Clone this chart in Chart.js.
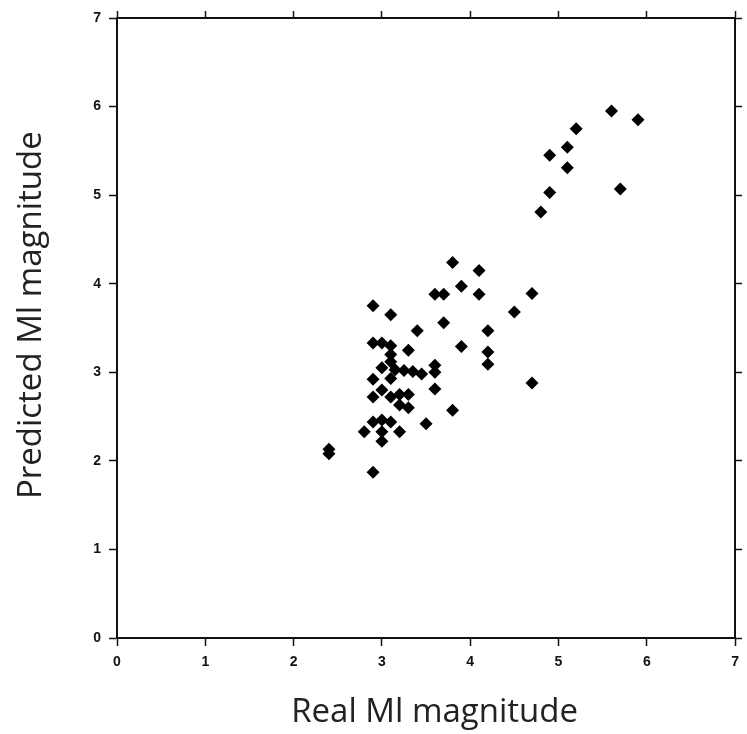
<!DOCTYPE html>
<html>
<head>
<meta charset="utf-8">
<script src="https://cdn.jsdelivr.net/npm/chart.js@4"></script>
<style>
  body { margin: 0; background: #fff; }
</style>
</head>
<body>
<canvas id="magChart" width="747" height="734"></canvas>
<script>
// Real vs predicted Ml magnitude
const realMl = [
  2.4, 2.4, 2.9, 2.9, 3.1, 3.4, 3.6, 3.7, 3.8, 3.9, 4.1, 4.1, 4.7, 4.5,
  3.7, 4.2, 3.3, 3.9, 4.2, 4.2, 3.6, 3.6, 4.7, 3.8, 3.5,
  2.9, 3.0, 3.1, 3.1, 3.1, 3.0, 3.15, 3.25, 3.35, 3.45, 3.6,
  2.9, 3.1, 3.0, 2.9, 3.1, 3.2, 3.2, 3.3, 3.3,
  2.9, 3.0, 3.1, 2.8, 3.0, 3.0, 3.2,
  5.6, 5.9, 5.2, 5.1, 4.9, 5.1, 4.9, 4.8, 5.7
];
const predictedMl = [
  2.13, 2.08, 1.87, 3.75, 3.65, 3.47, 3.88, 3.88, 4.24, 3.97, 4.15, 3.88, 3.89, 3.68,
  3.56, 3.47, 3.25, 3.29, 3.23, 3.09, 3.08, 2.81, 2.88, 2.57, 2.42,
  3.33, 3.33, 3.30, 3.20, 3.12, 3.05, 3.03, 3.02, 3.01, 2.98, 3.0,
  2.92, 2.93, 2.80, 2.72, 2.72, 2.75, 2.63, 2.75, 2.60,
  2.44, 2.46, 2.44, 2.33, 2.33, 2.22, 2.33,
  5.95, 5.85, 5.75, 5.54, 5.45, 5.31, 5.03, 4.81, 5.07
];
const axisTicks = [0, 1, 2, 3, 4, 5, 6, 7];

const points = realMl.map((x, i) => ({ x: x, y: predictedMl[i] }));

// shared look for the four axes; "size" pins the axis band so the plot box lands where the figure has it
function axisOpts(position, title, showLabels, tickLen, size) {
  const horizontal = position === "top" || position === "bottom";
  return {
    type: "linear",
    position: position,
    min: 0,
    max: 7,
    afterBuildTicks: (scale) => { scale.ticks = axisTicks.map(v => ({ value: v })); },
    afterFit: (scale) => {
      if (horizontal) scale.height = size;
      else scale.width = size;
    },
    ticks: {
      display: showLabels,
      color: "#111",
      padding: 8,
      font: { family: "'Liberation Sans', Arial, sans-serif", size: 14, weight: "bold" },
    },
    grid: {
      drawOnChartArea: false,
      drawTicks: true,
      tickLength: tickLen,
      tickColor: "#111",
      tickWidth: 1.5,
    },
    border: { display: true, color: "#111", width: 2 },
    title: {
      display: !!title,
      text: title,
      color: "#222",
      font: { family: "'Open Sans', sans-serif", size: 33 },
      padding: horizontal ? { top: 0, bottom: 2 } : { top: 12, bottom: 0 },
    },
  };
}

const ctx = document.getElementById("magChart").getContext("2d");

new Chart(ctx, {
  type: "scatter",
  data: {
    datasets: [
      {
        label: "Ml",
        data: points,
        pointStyle: "rectRot",
        radius: 6.5,
        backgroundColor: "#000",
        borderColor: "#000",
        borderWidth: 0,
      },
    ],
  },
  options: {
    responsive: false,
    animation: false,
    layout: { padding: 0 },
    plugins: {
      legend: { display: false },
      tooltip: { enabled: false },
    },
    scales: {
      // leading spaces nudge the titles off-centre the way the figure has them
      x: axisOpts("bottom", "  Real Ml magnitude", true, 8, 96),
      y: axisOpts("left", "   Predicted Ml magnitude", true, 8, 117),
      x2: axisOpts("top", "", false, 7, 18),
      y2: axisOpts("right", "", false, 7, 11),
    },
  },
});
</script>
</body>
</html>
